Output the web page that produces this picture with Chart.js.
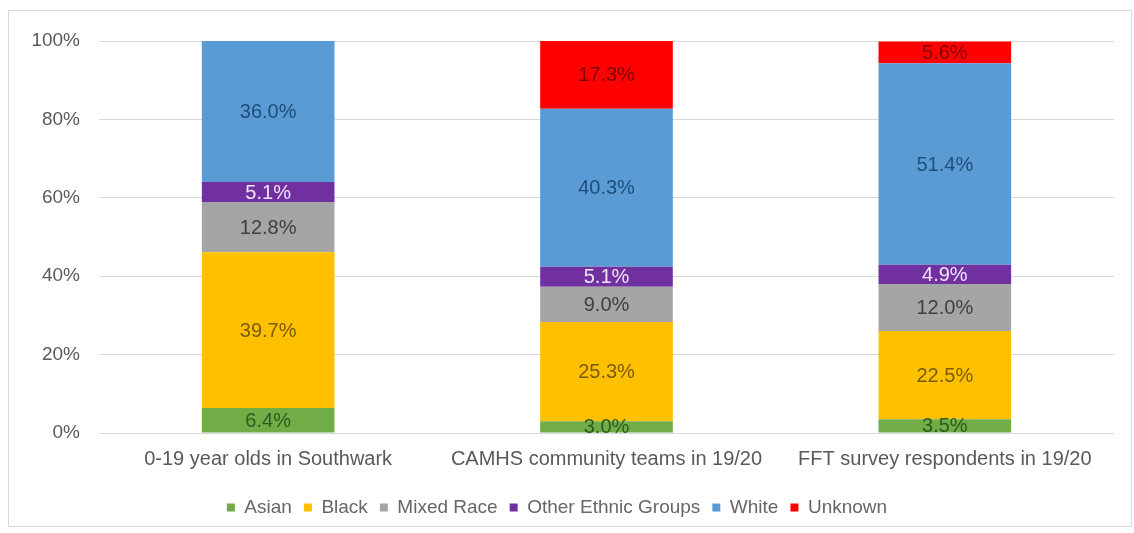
<!DOCTYPE html>
<html>
<head>
<meta charset="utf-8">
<title>Ethnicity breakdown</title>
<script src="https://cdn.jsdelivr.net/npm/chart.js@4.4.1/dist/chart.umd.min.js"></script>
<style>
  html, body { margin: 0; padding: 0; background: #fff; }
  #wrap { position: relative; width: 1134px; height: 533px; overflow: hidden; }
  #frame { position: absolute; left: 8px; top: 10px; width: 1124px; height: 517px; border: 1px solid #d9d9d9; box-sizing: border-box; }
  #chart { position: absolute; left: 0; top: 0; }
</style>
</head>
<body>
<div id="wrap">
  <div id="frame"></div>
  <canvas id="chart" width="1134" height="533"></canvas>
</div>
<script>
(() => {
  "use strict";

  // données
  const groups = ["0-19 year olds in Southwark", "CAMHS community teams in 19/20", "FFT survey respondents in 19/20"];
  const asian = [6.4, 3.0, 3.5];
  const black = [39.7, 25.3, 22.5];
  const mixedRace = [12.8, 9.0, 12.0];
  const otherEthnic = [5.1, 5.1, 4.9];
  const white = [36.0, 40.3, 51.4];
  const unknown = [0, 17.3, 5.6];
  const yTicks = [0, 20, 40, 60, 80, 100];

  // styles
  const series = [
    { label: "Asian", data: asian, color: "#70AD47", text: "#2e5a1c" },
    { label: "Black", data: black, color: "#FFC000", text: "#7a5c00" },
    { label: "Mixed Race", data: mixedRace, color: "#A5A5A5", text: "#404040" },
    { label: "Other Ethnic Groups", data: otherEthnic, color: "#7030A0", text: "#f0e4f8" },
    { label: "White", data: white, color: "#5B9BD5", text: "#1f4e79" },
    { label: "Unknown", data: unknown, color: "#FF0000", text: "#7f0000" }
  ];

  const FONT = "'Liberation Sans', Arial, sans-serif";

  // étiquettes de valeurs au centre des segments
  const segmentLabels = {
    id: "segmentLabels",
    afterDatasetsDraw(chart) {
      const ctx = chart.ctx;
      ctx.save();
      ctx.font = `20px ${FONT}`;
      ctx.textAlign = "center";
      ctx.textBaseline = "middle";
      chart.data.datasets.forEach((ds, i) => {
        const meta = chart.getDatasetMeta(i);
        if (meta.hidden) return;
        meta.data.forEach((bar, j) => {
          const v = ds.data[j];
          if (!v) return;
          const p = bar.getProps(["x", "y", "base"], true);
          ctx.fillStyle = series[i].text;
          ctx.fillText(v.toFixed(1) + "%", p.x, (p.y + p.base) / 2 + 1);
        });
      });
      ctx.restore();
    }
  };

  new Chart(document.getElementById("chart"), {
    type: "bar",
    data: {
      labels: groups,
      datasets: series.map((s) => ({
        label: s.label,
        data: s.data,
        backgroundColor: s.color,
        borderWidth: 0,
        categoryPercentage: 0.8,
        barPercentage: 0.49
      }))
    },
    options: {
      responsive: false,
      animation: false,
      layout: { padding: { top: 41, right: 20, bottom: 6, left: 0 } },
      plugins: {
        tooltip: { enabled: false },
        legend: {
          position: "bottom",
          labels: {
            boxWidth: 8,
            boxHeight: 8,
            padding: 12,
            color: "#666666",
            font: { family: FONT, size: 19 }
          }
        }
      },
      scales: {
        x: {
          stacked: true,
          grid: { display: false, drawTicks: false },
          border: { display: false },
          ticks: { color: "#595959", padding: 14, maxRotation: 0, autoSkip: false, font: { family: FONT, size: 20 } },
          afterFit: (s) => { s.height = 53; }
        },
        y: {
          stacked: true,
          min: yTicks[0],
          max: yTicks[yTicks.length - 1],
          afterBuildTicks: (s) => { s.ticks = yTicks.map((v) => ({ value: v })); },
          grid: { color: "#d9d9d9", drawTicks: false },
          border: { display: false },
          ticks: { color: "#595959", padding: 19, font: { family: FONT, size: 19 }, callback: (v) => v + "%" },
          afterFit: (s) => { s.width = 99; }
        }
      }
    },
    plugins: [segmentLabels]
  });
})();
</script>
</body>
</html>
